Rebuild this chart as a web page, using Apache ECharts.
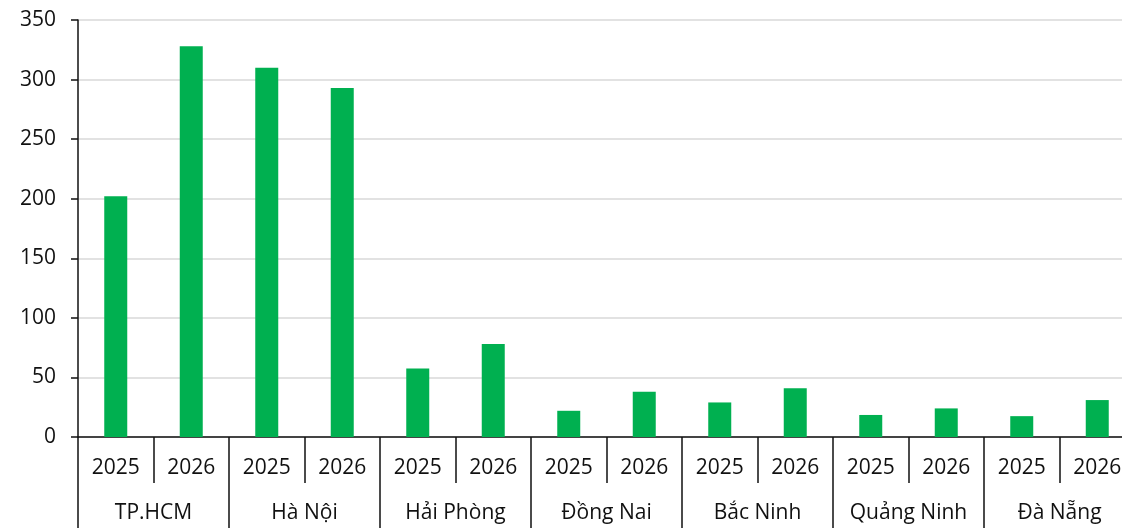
<!DOCTYPE html>
<html>
<head>
<meta charset="utf-8">
<style>
  html, body { margin: 0; padding: 0; background: #ffffff; overflow: hidden; }
  #chart { width: 1122px; height: 528px; }
</style>
<script src="https://cdn.jsdelivr.net/npm/echarts@6/dist/echarts.min.js"></script>
</head>
<body>
<div id="chart"></div>
<script>
// Cities (outer axis level) and years (inner axis level)
const cities = ['TP.HCM', 'Hà Nội', 'Hải Phòng', 'Đồng Nai', 'Bắc Ninh', 'Quảng Ninh', 'Đà Nẵng'];
const years = ['2025', '2026'];
const values2025 = [202, 310, 57.5, 22, 29, 18.5, 17.5];
const values2026 = [328, 293, 78, 38, 41, 24, 31];
const yTicks = { min: 0, max: 350, step: 50 };

// Flatten into one year-per-bar sequence: city1-2025, city1-2026, city2-2025, ...
const yearLabels = [];
const barValues = [];
cities.forEach((c, i) => {
  yearLabels.push(years[0]);
  barValues.push(values2025[i]);
  yearLabels.push(years[1]);
  barValues.push(values2026[i]);
});

const FONT = '"Open Sans", "Noto Sans", sans-serif';
const TEXT = '#111111';
const LINE = '#111111';

const chart = echarts.init(document.getElementById('chart'), null, { renderer: 'canvas' });
chart.setOption({
  animation: false,
  backgroundColor: '#ffffff',
  // the plot runs slightly past the right edge of the canvas
  grid: {
    left: 78, width: 1057, top: 20, height: 417,
    containLabel: false,
    outerBoundsMode: 'none'
  },
  xAxis: [
    {
      type: 'category',
      data: yearLabels,
      position: 'bottom',
      axisLine: { show: true, lineStyle: { color: LINE, width: 1.5 } },
      axisTick: { show: true, length: 46, lineStyle: { color: LINE, width: 1.5 } },
      axisLabel: { color: TEXT, fontFamily: FONT, fontSize: 21, margin: 21, interval: 0 },
      splitLine: { show: false }
    },
    {
      type: 'category',
      data: cities,
      position: 'bottom',
      axisLine: { show: false },
      axisTick: { show: true, length: 95, lineStyle: { color: LINE, width: 1.5 } },
      axisLabel: { color: TEXT, fontFamily: FONT, fontSize: 21, margin: 66, interval: 0 },
      splitLine: { show: false }
    }
  ],
  yAxis: {
    type: 'value',
    min: yTicks.min,
    max: yTicks.max,
    interval: yTicks.step,
    axisLine: { show: true, lineStyle: { color: LINE, width: 1.5 } },
    axisTick: { show: true, length: 7, lineStyle: { color: LINE, width: 1.5 } },
    axisLabel: { color: TEXT, fontFamily: FONT, fontSize: 21, margin: 22 },
    splitLine: { show: true, lineStyle: { color: '#d9d9d9', width: 1.5 } }
  },
  series: [
    {
      type: 'bar',
      xAxisIndex: 0,
      data: barValues,
      barWidth: 23,
      itemStyle: { color: '#00b050' }
    }
  ]
});
</script>
</body>
</html>
